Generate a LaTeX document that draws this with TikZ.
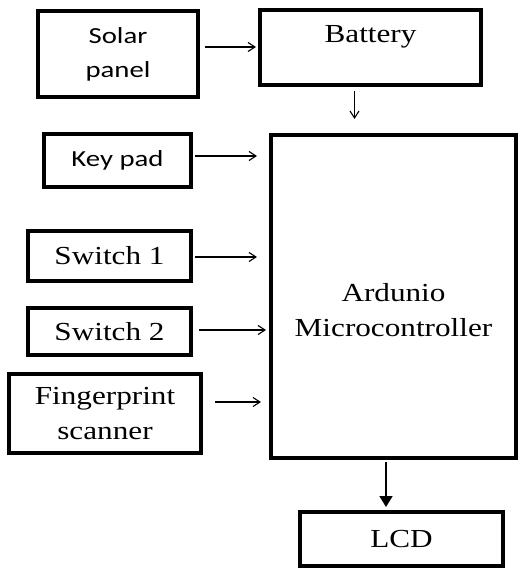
\documentclass[tikz,border=0pt]{standalone}
\usepackage{fontspec}
\setmainfont{Liberation Serif}[FakeStretch=1.2]
\newfontfamily\calibri{Carlito}[FakeStretch=1.25]
\usetikzlibrary{arrows.meta}

\begin{document}
\begin{tikzpicture}[x=1pt, y=-1pt,
  serif/.style={font=\fontsize{26}{35}\selectfont},
  block/.style={draw, line width=4pt, inner sep=0pt, align=center, serif},
  sansblock/.style={block, font=\calibri\fontsize{23}{34}\selectfont},
  wire/.style={line width=1.1pt, -{Straight Barb[length=7pt,width=9pt]}},
  bus/.style={line width=1.8pt, -{Triangle[length=11pt,width=13pt]}}]
			\useasboundingbox (0,0) rectangle (519,572);
			\node[sansblock, minimum width=160pt, minimum height=86pt] (solar) at (118,54) {Solar\\panel};
			\node[block, minimum width=221pt, minimum height=75pt, label={[yshift=11pt, serif]center:Battery}] (battery) at (370.5,47.5) {};
			\node[sansblock, minimum width=147pt, minimum height=53pt] (keypad) at (117.5,160.5) {Key pad};
			\node[block, minimum width=163pt, minimum height=50pt] (sw1) at (109.5,256) {Switch 1};
			\node[block, minimum width=163pt, minimum height=47pt] (sw2) at (109.5,331.5) {Switch 2};
			\node[block, minimum width=192pt, minimum height=79pt] (finger) at (105,413.5) {Fingerprint\\scanner};
			\node[block, minimum width=245pt, minimum height=323pt, label={[yshift=-14pt, align=center, serif]center:Ardunio\\Microcontroller}] (mcu) at (393.5,296.5) {};
			\node[block, minimum width=203pt, minimum height=54pt] (lcd) at (401.5,539) {LCD};
			\draw[wire, shorten <=5pt, shorten >=2pt] ([yshift=7pt]solar.east) -- ([yshift=7pt]solar.east -| battery.west);
			\draw[wire, shorten <=4pt, shorten >=14pt] ([xshift=-16pt]battery.south) -- ([xshift=-16pt]battery.south |- mcu.north);
			\draw[wire, shorten <=2pt, shorten >=12pt] ([yshift=4.5pt]keypad.east) -- ([yshift=4.5pt]keypad.east -| mcu.west);
			\draw[wire, shorten <=2pt, shorten >=12pt] ([yshift=-1pt]sw1.east) -- ([yshift=-1pt]sw1.east -| mcu.west);
			\draw[wire, shorten <=6pt, shorten >=3pt] ([yshift=1.5pt]sw2.east) -- ([yshift=1.5pt]sw2.east -| mcu.west);
			\draw[wire, shorten <=12pt, shorten >=8pt] ([yshift=11.5pt]finger.east) -- ([yshift=11.5pt]finger.east -| mcu.west);
			\draw[bus, shorten <=2pt, shorten >=3pt] ([xshift=-7.5pt]mcu.south) -- ([xshift=-7.5pt]mcu.south |- lcd.north);
\end{tikzpicture}
\end{document}
